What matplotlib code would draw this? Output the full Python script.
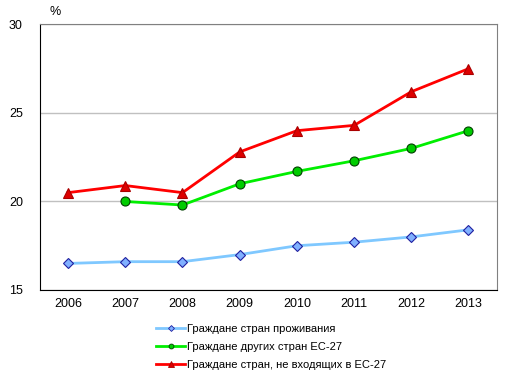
import matplotlib
matplotlib.use("Agg")
import matplotlib.pyplot as plt
from matplotlib.lines import Line2D
import numpy as np

plt.rcParams['font.family'] = ['Liberation Sans', 'DejaVu Sans']

years = ['2006', '2007', '2008', '2009', '2010', '2011', '2012', '2013']
resident = [16.5, 16.6, 16.6, 17.0, 17.5, 17.7, 18.0, 18.4]
other_eu = [np.nan, 20.0, 19.8, 21.0, 21.7, 22.3, 23.0, 24.0]
non_eu = [20.5, 20.9, 20.5, 22.8, 24.0, 24.3, 26.2, 27.5]
labels = ['Граждане стран проживания', 'Граждане других стран ЕС-27',
          'Граждане стран, не входящих в ЕС-27']

fig = plt.figure(figsize=(5.13, 3.74), dpi=100)
ax = fig.add_axes([0.077, 0.2246, 0.892, 0.71])
x = np.arange(len(years)) + 0.5

ax.plot(x, resident, color='#7fc8ff', lw=2, marker='D', ms=5.5,
        mfc='#80b0ff', mec='#2020a0', mew=0.8, zorder=3)
ax.plot(x, other_eu, color='#00ee00', lw=2, marker='o', ms=6.5,
        mfc='#00cc00', mec='#004000', mew=0.8, zorder=3)
ax.plot(x, non_eu, color='#ff0000', lw=2, marker='^', ms=7.5,
        mfc='#dd0000', mec='#aa0000', mew=0.8, zorder=3)

ax.set_xlim(0, 8)
ax.set_ylim(15, 30)
ax.set_yticks([15, 20, 25, 30])
ax.set_xticks(x)
ax.set_xticklabels(years)
ax.tick_params(length=0, labelsize=9, pad=6)
ax.tick_params(axis='y', pad=12)
ax.yaxis.grid(True, color='#c0c0c0', lw=1)
ax.set_axisbelow(True)
for s in ['top', 'right']:
    ax.spines[s].set_color('#808080')
for s in ['left', 'bottom']:
    ax.spines[s].set_color('black')
ax.text(0.18, 30.35, '%', fontsize=9, ha='left', va='bottom')

handles = [
    Line2D([], [], color='#7fc8ff', lw=2, marker='D', ms=3, mfc='#80b0ff', mec='#2020a0', mew=0.6),
    Line2D([], [], color='#00ee00', lw=2, marker='o', ms=3.5, mfc='#00cc00', mec='#004000', mew=0.6),
    Line2D([], [], color='#ff0000', lw=2, marker='^', ms=4, mfc='#dd0000', mec='#aa0000', mew=0.6),
]
fig.legend(handles, labels, loc='upper left', bbox_to_anchor=(0.305, 0.135),
           frameon=False, fontsize=8, handlelength=2.6, handletextpad=0.15,
           labelspacing=0.72, borderaxespad=0, borderpad=0)

fig.savefig('out.png', dpi=100)
